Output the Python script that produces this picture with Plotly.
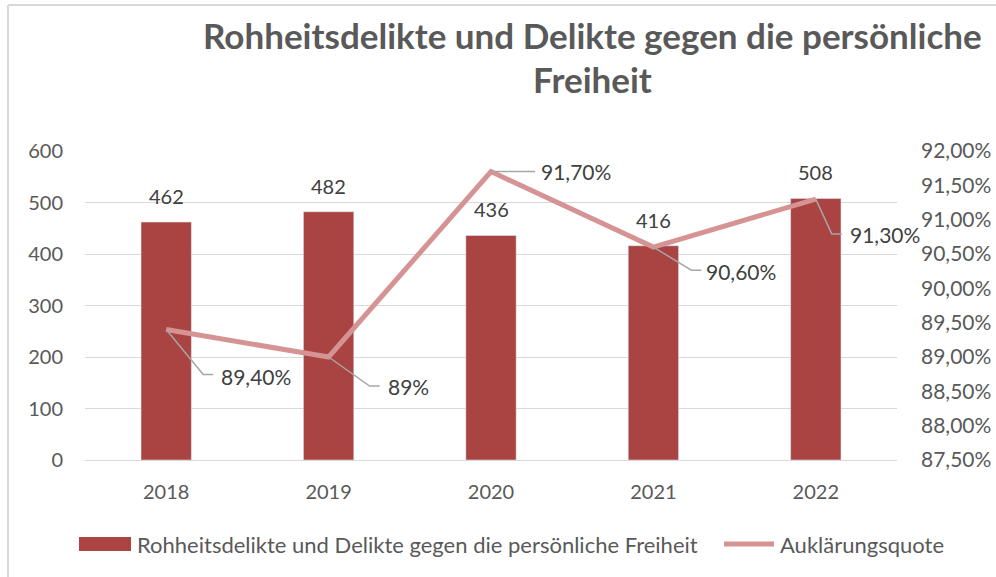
import plotly.graph_objects as go

years = ["2018", "2019", "2020", "2021", "2022"]
delikte = [462, 482, 436, 416, 508]
quote = [89.4, 89.0, 91.7, 90.6, 91.3]
left_ticks = [0, 100, 200, 300, 400, 500, 600]
right_ticks = [87.5, 88.0, 88.5, 89.0, 89.5, 90.0, 90.5, 91.0, 91.5, 92.0]

bar_name = "Rohheitsdelikte und Delikte gegen die persönliche Freiheit"
line_name = "Auklärungsquote"
title_lines = ["Rohheitsdelikte und Delikte gegen die persönliche", "Freiheit"]

FONT = "Lato, sans-serif"
GRAY = "#595959"
DARK = "#404040"
BAR = "#A94442"
LINE = "#D69393"


def tick_pct(v):
    return f"{v:.2f}%".replace(".", ",")


def label_pct(v):
    if float(v).is_integer():
        return f"{int(v)}%"
    return f"{v:.2f}%".replace(".", ",")


W, H = 996, 577
ML, MR, MT, MB = 85, 99, 151, 117
PW, PH = W - ML - MR, H - MT - MB


def px(x):  # pixel -> paper x
    return (x - ML) / PW


def py(y):  # pixel -> paper y
    return (H - MB - y) / PH


xs = list(range(len(years)))

fig = go.Figure()
fig.add_trace(go.Bar(
    x=xs, y=delikte, name=bar_name, marker_color=BAR, width=0.31, showlegend=False,
))
fig.add_trace(go.Scatter(
    x=xs, y=quote, name=line_name, yaxis="y2", mode="lines", showlegend=False,
    line=dict(color=LINE, width=5),
))

shapes = []
annotations = []

# bar value labels
for x, v in zip(xs, delikte):
    annotations.append(dict(x=x, y=v, xref="x", yref="y", text=str(v), showarrow=False,
                            xanchor="center", yanchor="bottom", yshift=12,
                            font=dict(size=20, color=DARK, family=FONT)))

# leader lines (pixel offsets relative to each point) and label offsets
leaders = [
    ("M0,0 L37,-45 L47,-45", 53, -47),
    ("M0,0 L41,-29 L51,-29", 57, -29),
    ("M0,0 L44,0", 48, 0),
    ("M0,0 L38,-23 L48,-23", 51, -24),
    ("M0,0 L16,-35 L26,-35", 32, -35),
]
for x, v, (path, dx, dy) in zip(xs, quote, leaders):
    shapes.append(dict(type="path", xref="x", yref="y2", xsizemode="pixel", ysizemode="pixel",
                       xanchor=x, yanchor=v, path=path,
                       line=dict(color="#A6A6A6", width=1.5)))
    annotations.append(dict(x=x, y=v, xref="x", yref="y2", text=label_pct(v), showarrow=False,
                            xanchor="left", yanchor="middle", xshift=dx, yshift=dy,
                            font=dict(size=21, color=DARK, family=FONT)))

# title
annotations.append(dict(xref="paper", yref="paper", x=px(592), y=py(35),
                        text=f"<b>{title_lines[0]}</b>", showarrow=False, xanchor="center",
                        yanchor="middle", font=dict(size=35, color=GRAY, family=FONT)))
annotations.append(dict(xref="paper", yref="paper", x=px(592), y=py(79),
                        text=f"<b>{title_lines[1]}</b>", showarrow=False, xanchor="center",
                        yanchor="middle", font=dict(size=35, color=GRAY, family=FONT)))

# legend (drawn)
shapes.append(dict(type="rect", xref="paper", yref="paper", x0=px(79), x1=px(131),
                   y0=py(551), y1=py(537), fillcolor=BAR, line=dict(width=0)))
annotations.append(dict(xref="paper", yref="paper", x=px(135), y=py(544), text=bar_name,
                        showarrow=False, xanchor="left", yanchor="middle",
                        font=dict(size=22, color=GRAY, family=FONT)))
shapes.append(dict(type="line", xref="paper", yref="paper", x0=px(724), x1=px(774),
                   y0=py(544), y1=py(544), line=dict(color=LINE, width=5)))
annotations.append(dict(xref="paper", yref="paper", x=px(778), y=py(544), text=line_name,
                        showarrow=False, xanchor="left", yanchor="middle",
                        font=dict(size=22, color=GRAY, family=FONT)))

# chart border (left and top)
shapes.append(dict(type="line", xref="paper", yref="paper", x0=px(8), x1=px(W),
                   y0=py(5), y1=py(5), line=dict(color="#D9D9D9", width=2)))
shapes.append(dict(type="line", xref="paper", yref="paper", x0=px(8), x1=px(8),
                   y0=py(5), y1=py(H), line=dict(color="#D9D9D9", width=2)))

fig.update_layout(
    width=W, height=H, margin=dict(l=ML, r=MR, t=MT, b=MB, autoexpand=False),
    paper_bgcolor="white", plot_bgcolor="white",
    font=dict(family=FONT, color=GRAY, size=20),
    showlegend=False,
    xaxis=dict(range=[-0.5, len(years) - 0.5], tickvals=xs, ticktext=years,
               showgrid=False, zeroline=False, showline=True, linecolor="#D9D9D9", linewidth=1,
               ticks="", tickfont=dict(size=20, color=GRAY), ticklabelstandoff=14),
    yaxis=dict(range=[0, 600], tickvals=left_ticks, showgrid=True, gridcolor="#D9D9D9",
               gridwidth=1, zeroline=False, showline=False, ticks="",
               tickfont=dict(size=20, color=GRAY), ticklabelstandoff=21),
    yaxis2=dict(range=[87.5, 92.0], overlaying="y", side="right", tickvals=right_ticks,
                ticktext=[tick_pct(v) for v in right_ticks], showgrid=False, zeroline=False,
                showline=False, ticks="", tickfont=dict(size=21, color=GRAY),
                ticklabelstandoff=23),
    shapes=shapes,
    annotations=annotations,
)

fig.write_html("out.html", config={"displayModeBar": False},
               post_script="document.body.style.margin='0';")
